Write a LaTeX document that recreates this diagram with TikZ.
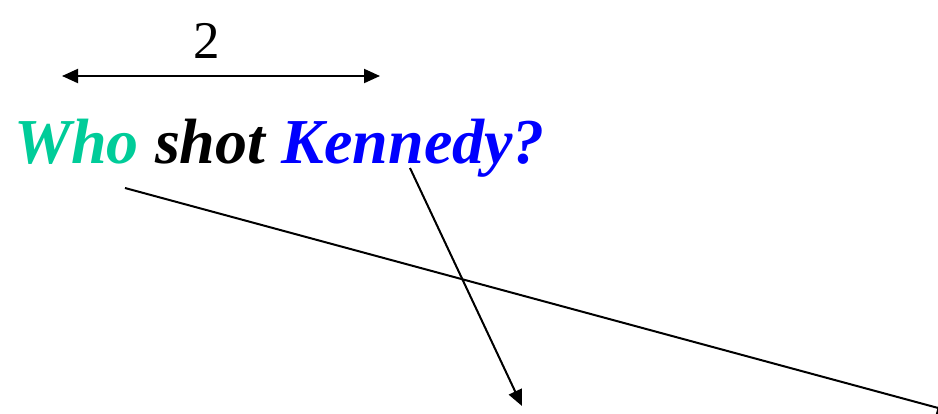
\documentclass[tikz,border=0pt]{standalone}
\usepackage{fontspec}
\setmainfont{Liberation Serif}
\usetikzlibrary{arrows.meta}
\definecolor{whocol}{RGB}{0,204,153}
\definecolor{kencol}{RGB}{0,0,255}
\begin{document}
\begin{tikzpicture}[x=1pt,y=-1pt,
  conn/.style={line width=2pt,-{Triangle[length=16pt,width=14pt]}},
  dbl/.style={line width=2pt,{Triangle[length=16pt,width=14pt]}-{Triangle[length=16pt,width=14pt]}},
  word/.style={inner sep=0pt,anchor=base west,font=\fontsize{64}{72}\selectfont\bfseries\itshape}]
\useasboundingbox (0,0) rectangle (938,413);
\clip (0,0) rectangle (938,413);
\node[word,text=whocol] (who) at (14,163) {Who};
\node[word,anchor=base west] (shot) at ([xshift=16pt]who.base east) {shot};
\node[word,text=kencol,anchor=base west] (ken) at ([xshift=16pt]shot.base east) {Kennedy?};
\node[inner sep=0pt,anchor=base,font=\fontsize{53}{60}\selectfont] (two) at (207,58) {2};
\coordinate (dl) at (62,76);
\coordinate (dr) at (380,76);
\draw[dbl] (dl) -- (dr);
\coordinate (s1) at (125,188);
\coordinate (e1) at (953,412);
\draw[conn] (s1) -- (e1);
\coordinate (s2) at (410,168);
\coordinate (e2) at (522,406);
\draw[conn] (s2) -- (e2);
\end{tikzpicture}
\end{document}
